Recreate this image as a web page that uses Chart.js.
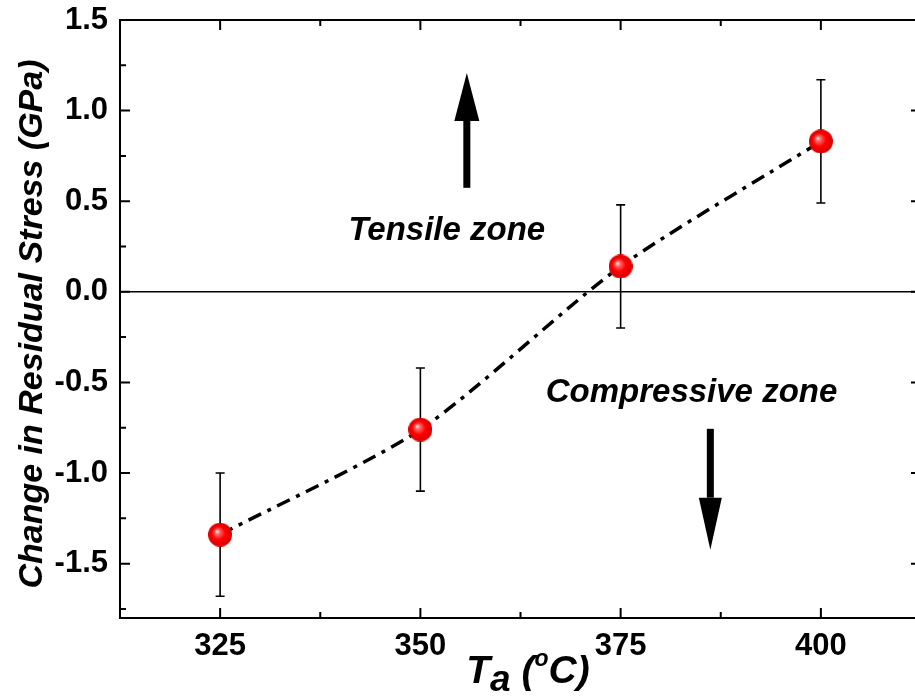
<!DOCTYPE html>
<html>
<head>
<meta charset="utf-8">
<script src="https://cdn.jsdelivr.net/npm/chart.js@4/dist/chart.umd.min.js"></script>
<style>
html, body { margin: 0; padding: 0; overflow: hidden; background: #fff; }
#wrap { width: 930px; height: 697px; position: relative; }
</style>
</head>
<body>
<div id="wrap"><canvas id="stressChart" width="930" height="697"></canvas></div>
<script>
// annealing temperature (°C) vs change in residual stress (GPa)
const temps = [325, 350, 375, 400];
const stress = [-1.34, -0.76, 0.14, 0.83];
const stressErr = [0.34, 0.34, 0.34, 0.34];

const xTicks = [325, 350, 375, 400];
const yTicks = [-1.5, -1.0, -0.5, 0.0, 0.5, 1.0, 1.5];

const FONT = "'Liberation Sans', Arial, sans-serif";

// shaded red ball used as the point marker
function makeBall(r) {
  const c = document.createElement('canvas');
  c.width = c.height = r * 2;
  const g = c.getContext('2d');
  const grad = g.createRadialGradient(r * 0.72, r * 0.72, 0, r, r, r);
  grad.addColorStop(0, '#ffffff');
  grad.addColorStop(0.2, '#ff6a6a');
  grad.addColorStop(0.55, '#ff0000');
  grad.addColorStop(1, '#d40000');
  g.fillStyle = grad;
  g.beginPath();
  g.arc(r, r, r, 0, Math.PI * 2);
  g.fill();
  return c;
}
const ball = makeBall(12);

function arrow(ctx, x, y0, y1, yBase, shaftW, headW) {
  ctx.fillRect(x - shaftW / 2, Math.min(y0, yBase), shaftW, Math.abs(yBase - y0));
  ctx.beginPath();
  ctx.moveTo(x - headW / 2, yBase);
  ctx.lineTo(x + headW / 2, yBase);
  ctx.lineTo(x, y1);
  ctx.closePath();
  ctx.fill();
}

const decor = {
  id: 'decor',
  beforeDatasetsDraw(chart) {
    const { ctx, scales: { x, y } } = chart;
    ctx.save();
    ctx.strokeStyle = '#000';
    ctx.lineWidth = 1.6;
    // error bars
    temps.forEach((t, i) => {
      const px = x.getPixelForValue(t);
      const top = y.getPixelForValue(stress[i] + stressErr[i]);
      const bot = y.getPixelForValue(stress[i] - stressErr[i]);
      ctx.beginPath();
      ctx.moveTo(px, top); ctx.lineTo(px, bot);
      ctx.moveTo(px - 4.5, top); ctx.lineTo(px + 4.5, top);
      ctx.moveTo(px - 4.5, bot); ctx.lineTo(px + 4.5, bot);
      ctx.stroke();
    });
    ctx.restore();
  },
  afterDraw(chart) {
    const { ctx, scales: { x, y }, chartArea: a } = chart;
    ctx.save();
    ctx.strokeStyle = '#000';
    ctx.fillStyle = '#000';
    ctx.lineWidth = 2;
    ctx.strokeRect(a.left, a.top, a.right - a.left, a.bottom - a.top);

    // inward ticks on all four sides, minor ticks halfway
    ctx.beginPath();
    const yStep = yTicks[1] - yTicks[0];
    yTicks.forEach(v => {
      const py = y.getPixelForValue(v);
      ctx.moveTo(a.left, py); ctx.lineTo(a.left + 10, py);
      ctx.moveTo(a.right, py); ctx.lineTo(a.right - 10, py);
    });
    for (let v = yTicks[0] - yStep / 2; v < y.max; v += yStep) {
      if (v <= y.min) continue;
      const py = y.getPixelForValue(v);
      ctx.moveTo(a.left, py); ctx.lineTo(a.left + 6, py);
      ctx.moveTo(a.right, py); ctx.lineTo(a.right - 6, py);
    }
    const xStep = xTicks[1] - xTicks[0];
    xTicks.forEach(v => {
      const px = x.getPixelForValue(v);
      ctx.moveTo(px, a.bottom); ctx.lineTo(px, a.bottom - 10);
      ctx.moveTo(px, a.top); ctx.lineTo(px, a.top + 10);
    });
    for (let v = xTicks[0] - xStep / 2; v < x.max; v += xStep) {
      if (v <= x.min) continue;
      const px = x.getPixelForValue(v);
      ctx.moveTo(px, a.bottom); ctx.lineTo(px, a.bottom - 6);
      ctx.moveTo(px, a.top); ctx.lineTo(px, a.top + 6);
    }
    ctx.stroke();

    // zone arrows
    arrow(ctx, x.getPixelForValue(355.8), y.getPixelForValue(0.574), y.getPixelForValue(1.208), y.getPixelForValue(0.943), 7, 25);
    arrow(ctx, x.getPixelForValue(386.2), y.getPixelForValue(-0.756), y.getPixelForValue(-1.423), y.getPixelForValue(-1.136), 7, 23);

    // zone labels
    ctx.font = `italic bold 33px ${FONT}`;
    ctx.textAlign = 'center';
    ctx.textBaseline = 'alphabetic';
    ctx.fillText('Tensile zone', x.getPixelForValue(353.3), y.getPixelForValue(0.287));
    ctx.fillText('Compressive zone', x.getPixelForValue(383.85), y.getPixelForValue(-0.607));

    // y axis title
    ctx.save();
    ctx.translate(42, 324);
    ctx.rotate(-Math.PI / 2);
    ctx.font = `italic bold 34px ${FONT}`;
    ctx.fillText('Change in Residual Stress (GPa)', 0, 0);
    ctx.restore();

    // x axis title: T_a (°C)
    ctx.textAlign = 'left';
    const parts = [
      { t: 'T', size: 39, dy: 0 },
      { t: 'a', size: 37, dy: 8 },
      { t: ' (', size: 39, dy: 0 },
      { t: 'o', size: 23, dy: -17 },
      { t: 'C)', size: 39, dy: 0 }
    ];
    let total = 0;
    parts.forEach(p => {
      ctx.font = `italic bold ${p.size}px ${FONT}`;
      p.w = ctx.measureText(p.t).width;
      total += p.w;
    });
    let cx = 528 - total / 2;
    const base = 683;
    parts.forEach(p => {
      ctx.font = `italic bold ${p.size}px ${FONT}`;
      ctx.fillText(p.t, cx, base + p.dy);
      cx += p.w;
    });
    ctx.restore();
  }
};

new Chart(document.getElementById('stressChart'), {
  type: 'line',
  data: {
    datasets: [{
      data: temps.map((t, i) => ({ x: t, y: stress[i] })),
      borderColor: '#000',
      borderWidth: 3.5,
      borderDash: [14, 7, 4, 7],
      tension: 0.25,
      fill: false,
      pointStyle: ball,
      pointRadius: 12
    }]
  },
  options: {
    responsive: false,
    animation: false,
    // the plot frame's right side sits just past the visible page edge
    layout: { autoPadding: false, padding: { top: 20, right: 9, left: 0, bottom: 0 } },
    plugins: { legend: { display: false }, tooltip: { enabled: false } },
    scales: {
      x: {
        type: 'linear',
        min: 312.5,
        max: 412.5,
        afterBuildTicks: s => { s.ticks = xTicks.map(v => ({ value: v })); },
        afterFit: s => { s.height = 79; s.paddingLeft = 0; s.paddingRight = 0; },
        grid: { display: false, drawTicks: false },
        border: { display: false },
        ticks: {
          color: '#000',
          padding: 10,
          maxRotation: 0,
          font: { family: FONT, size: 31, weight: 'bold' },
          callback: v => String(v)
        }
      },
      y: {
        min: -1.8,
        max: 1.5,
        afterBuildTicks: s => { s.ticks = yTicks.map(v => ({ value: v })); },
        afterFit: s => { s.width = 120; s.paddingTop = 0; s.paddingBottom = 0; },
        grid: {
          drawTicks: false,
          lineWidth: 1.5,
          color: c => (c.tick && c.tick.value === 0 ? '#000' : 'rgba(0,0,0,0)')
        },
        border: { display: false },
        ticks: {
          color: '#000',
          padding: 12,
          font: { family: FONT, size: 31, weight: 'bold' },
          callback: v => v.toFixed(1)
        }
      }
    }
  },
  plugins: [decor]
});
</script>
</body>
</html>
